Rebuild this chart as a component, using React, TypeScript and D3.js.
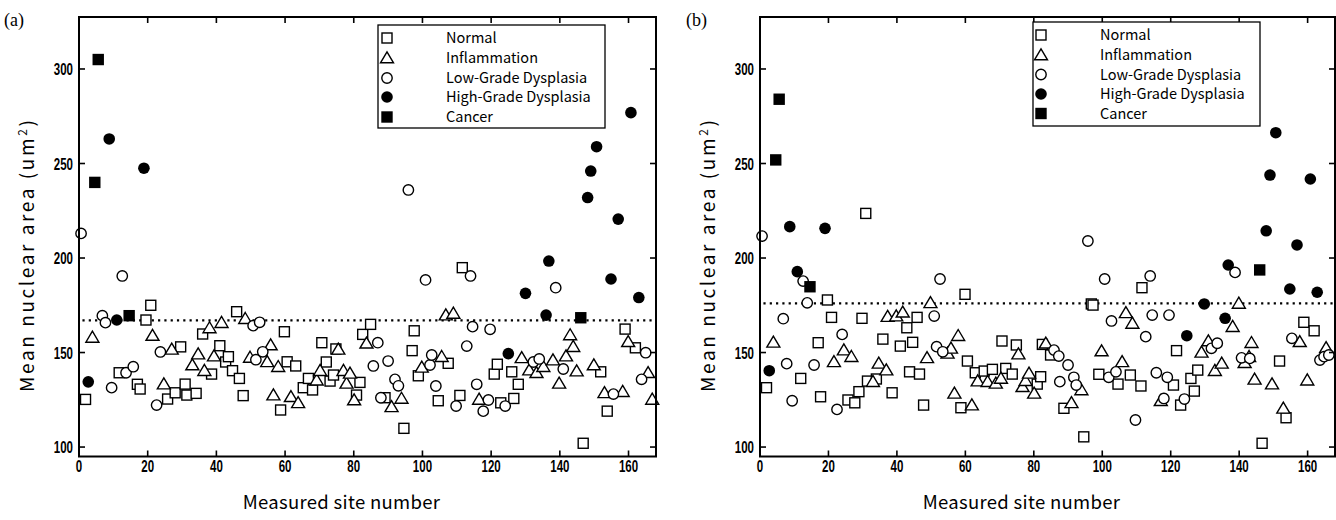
import React from "react";
import * as d3 from "d3";

type Pt = [number, number];

// ---- Panel (a) data: [site number, mean nuclear area] ----
const aNormal: Pt[] = [[1.9,125.2],[11.7,139.3],[17,133.2],[17.8,130.7],[19.5,167.2],[20.9,175],[25.8,125.4],[28,128.7],[29.6,153],[30.9,133.3],[31.4,127.5],[34.1,128.4],[36,159.8],[38.6,138.6],[41,153.6],[42.7,145],[43.5,147.8],[44.7,140.4],[45.9,171.6],[46.7,136.3],[47.8,127.2],[58.7,119.6],[59.8,161],[60.6,145.1],[63.1,142.9],[65.3,131.4],[66.8,136.3],[68,130.2],[70.7,155.2],[72,145],[73.1,134.9],[74.1,138.1],[74.8,151.9],[80.8,127.5],[81.8,134.2],[82.6,159.6],[84.9,164.9],[89.1,126.1],[94.6,109.9],[97,151],[97.6,161.5],[98.8,137.7],[104.6,124.5],[107.5,144.3],[110.9,127.3],[111.6,194.9],[120.9,138.6],[121.8,143.8],[122.8,123.4],[126,139.8],[126.6,125.7],[127.9,133.2],[146.8,102],[151.9,139.8],[153.8,119],[159,162.4],[162,152.5]];
const aInflammation: Pt[] = [[3.9,158],[21.4,159],[24.7,133.3],[27,151.7],[33,143.4],[34.7,149.2],[36.5,140.4],[38,163],[39.3,148.1],[41.5,165.8],[48.4,167.9],[49.8,147.4],[54.8,145.1],[55.8,154],[56.6,127.5],[58,142.5],[61.7,126.6],[63.8,123.4],[69.2,135.4],[70.2,140.4],[75.5,151.7],[77,140.4],[77.9,133.7],[78.9,139],[80.1,124.9],[83.7,154.9],[91,121.3],[93.9,125.7],[99.8,142.2],[105.6,147.8],[106.8,169.8],[109,170.7],[116.5,125.2],[128.9,147.2],[131.1,140.7],[133.2,139.3],[135.2,142.5],[138,146],[139.8,133.7],[141.8,148.1],[143,159.3],[143.9,153.1],[144.9,140.2],[149.9,143.4],[153,128.7],[158.3,129.3],[159.9,155.7],[165.7,139.3],[166.9,125.2]];
const aLowGrade: Pt[] = [[0.6,213],[6.8,169.5],[7.7,165.8],[9.5,131.4],[12.6,190.5],[13.7,139.3],[15.8,142.5],[22.6,122.2],[23.7,150.3],[50.7,164.2],[51.5,146.2],[52.6,166],[53.5,150.4],[85.7,142.9],[87,155.2],[87.9,126.1],[90,145.5],[92,135.8],[93,132.4],[95.9,236],[100.9,188.4],[102.2,143.4],[102.7,148.7],[103.9,132.3],[109.8,121.7],[112.9,153.4],[114,190.5],[114.6,163.7],[115.8,133.2],[117.7,119],[119.2,124.9],[119.7,162.3],[124.1,121.7],[132.3,145],[134,146.6],[138.8,184.3],[141,141.3],[155.6,128],[163.8,135.8],[165,149.9]];
const aHighGrade: Pt[] = [[2.7,134.5],[8.8,263],[11,167.2],[18.9,247.5],[125,149.4],[130,181.3],[136,169.8],[136.8,198.4],[148.1,232],[149,246],[150.7,258.9],[154.9,188.9],[157,220.6],[160.7,276.9],[163,179.1]];
const aCancer: Pt[] = [[4.6,240],[5.6,305],[14.6,169.5],[146.1,168.4]];
const aThreshold = 167;

// ---- Panel (b) data ----
const bNormal: Pt[] = [[1.9,131.4],[11.9,136.3],[17,155.2],[17.7,126.6],[19.7,177.8],[20.9,168.6],[25.7,124.9],[27.7,123.4],[28.9,129.3],[29.8,168.1],[30.9,223.6],[31.4,134.9],[34,136],[35.9,157.1],[38.6,128.7],[41,153.4],[42.9,163.1],[43.7,139.8],[44.6,155.4],[45.9,168.6],[46.6,138.6],[47.8,122.2],[58.7,120.8],[59.9,180.8],[60.6,145.5],[62.9,139.3],[65.5,140.2],[67.9,141.1],[70.7,156.1],[71.8,141.6],[73.7,138.6],[74.9,154],[81,133.3],[82,137.2],[82.5,154.3],[84.9,148.7],[88.8,120.5],[94.6,105.4],[96.8,175.7],[97.3,175.1],[99,138.5],[104.6,133.3],[108.2,138.1],[111.3,132.3],[111.6,184.3],[120.8,132.8],[121.7,151],[122.9,122.2],[125.9,136.3],[126.9,129.6],[127.9,140.7],[146.7,102],[151.8,145.5],[153.7,115.5],[158.9,166],[161.9,161.5]];
const bInflammation: Pt[] = [[3.9,155.4],[21.6,145.1],[24.5,151.3],[26.7,147.8],[33,134.6],[34.7,144.3],[36.9,140.7],[37.3,169],[39.8,169.3],[41.7,171.3],[48.8,147.2],[49.8,176.3],[54.8,149.6],[55.8,152.2],[56.8,128.4],[57.9,158.9],[61.9,122.2],[63.6,134.9],[66.5,134.6],[68.9,133.7],[70.4,136.3],[75.5,149.2],[76.7,131.9],[77.6,135.1],[78.6,139],[80.1,128.4],[83.5,154.9],[91,123.4],[93.9,130.2],[99.8,150.8],[105.8,145.1],[106.9,171],[108.8,165.4],[117.1,124.5],[129,150.1],[131,156.1],[132.9,140.4],[134.9,144.3],[138.1,163.7],[139.9,176],[141.6,144.6],[142.9,147.8],[143.6,155.2],[144.5,135.8],[149.6,133.3],[152.9,120.5],[157.7,155.7],[159.9,135.4],[165.4,152.5]];
const bLowGrade: Pt[] = [[0.6,211.6],[6.8,167.9],[7.8,144.1],[9.4,124.5],[12.6,187.8],[13.8,176.3],[15.8,143.4],[22.5,119.9],[24,159.6],[50.9,169.3],[51.6,153.1],[52.6,188.9],[53.4,150.4],[85.9,151.3],[87.3,148.1],[87.6,134.6],[90,143.4],[91.7,136.9],[92.4,132.8],[95.8,209],[100.7,188.9],[101.9,136.9],[102.7,166.7],[104,139.8],[109.7,114.3],[112.7,158.4],[114,190.5],[114.6,169.8],[115.8,139.3],[118,125.7],[119,136.9],[119.5,169.8],[124,125.4],[131.9,152.2],[133.6,154.9],[138.8,192.4],[140.7,147.2],[143.1,146.9],[155.4,157.5],[163.6,146],[164.8,147.8],[166.2,148.7]];
const bHighGrade: Pt[] = [[2.7,140.4],[8.7,216.6],[10.9,192.8],[19,215.7],[124.7,158.9],[129.8,175.7],[135.9,168.1],[136.8,196.3],[147.9,214.4],[149,243.9],[150.7,266.3],[154.8,183.6],[156.9,206.9],[160.8,241.8],[162.8,181.9]];
const bCancer: Pt[] = [[4.6,251.9],[5.6,284],[14.6,184.8],[146,193.7]];
const bThreshold = 176;

const categories = ["Normal", "Inflammation", "Low-Grade Dysplasia", "High-Grade Dysplasia", "Cancer"];
const xTicks = [0, 20, 40, 60, 80, 100, 120, 140, 160];
const yTicks = [100, 150, 200, 250, 300];
const xDomain: [number, number] = [0, 168];
const yDomain: [number, number] = [95, 327.5];

const W = 1336, H = 520;
const TOP = 17, BOTTOM = 456.5;

function Marker({ kind, x, y }: { kind: number; x: number; y: number }) {
  const sw = 1.4;
  if (kind === 0) return <rect x={x - 5} y={y - 5} width={10} height={10} fill="white" stroke="black" strokeWidth={sw} />;
  if (kind === 1) return <path d={`M${x},${y - 6.2}L${x + 6.5},${y + 4.8}L${x - 6.5},${y + 4.8}Z`} fill="white" stroke="black" strokeWidth={sw} strokeLinejoin="miter" />;
  if (kind === 2) return <circle cx={x} cy={y} r={5.2} fill="white" stroke="black" strokeWidth={sw} />;
  if (kind === 3) return <circle cx={x} cy={y} r={5.8} fill="black" />;
  return <rect x={x - 5.7} y={y - 5.7} width={11.4} height={11.4} fill="black" />;
}

type PanelProps = {
  left: number; right: number; label: string; labelX: number;
  series: Pt[][]; threshold: number;
  legend: { x0: number; x1: number; y0: number; y1: number; mx: number; tx: number; rows: number[] };
};

function Panel({ left, right, label, labelX, series, threshold, legend }: PanelProps) {
  const x = d3.scaleLinear().domain(xDomain).range([left, right]);
  const y = d3.scaleLinear().domain(yDomain).range([BOTTOM, TOP]);
  const tickFont = { fontFamily: "Liberation Sans, Arial, sans-serif", fontWeight: 700, fontSize: 16 } as const;
  const gothic = "'Noto Sans CJK JP', 'Noto Sans', sans-serif";
  const tl = 6;
  const midX = (left + right) / 2;
  return (
    <g>
      <text x={labelX} y={26} fontFamily="'Liberation Serif', 'DejaVu Serif', serif" fontSize={18}>{label}</text>
      {/* dotted threshold */}
      <line x1={x(1)} x2={right - 2} y1={y(threshold)} y2={y(threshold)} stroke="black" strokeWidth={2.2} strokeDasharray="2.2,4.1" />
      {/* points */}
      {series.map((pts, k) => (
        <g key={k}>
          {pts.map((p, i) => <Marker key={i} kind={k} x={x(p[0])} y={y(p[1])} />)}
        </g>
      ))}
      {/* frame */}
      <rect x={left} y={TOP} width={right - left} height={BOTTOM - TOP} fill="none" stroke="black" strokeWidth={2} />
      {xTicks.map((t) => (
        <g key={"x" + t}>
          <line x1={x(t)} x2={x(t)} y1={BOTTOM} y2={BOTTOM - tl} stroke="black" strokeWidth={1.6} />
          <line x1={x(t)} x2={x(t)} y1={TOP} y2={TOP + tl} stroke="black" strokeWidth={1.6} />
          <text transform={`translate(${x(t)},${BOTTOM + 15}) scale(0.72,1)`} textAnchor="middle" {...tickFont}>{t}</text>
        </g>
      ))}
      {yTicks.map((t) => (
        <g key={"y" + t}>
          <line x1={left} x2={left + tl} y1={y(t)} y2={y(t)} stroke="black" strokeWidth={1.6} />
          <line x1={right} x2={right - tl} y1={y(t)} y2={y(t)} stroke="black" strokeWidth={1.6} />
          <text transform={`translate(${left - 6},${y(t) + 6}) scale(0.72,1)`} textAnchor="end" {...tickFont}>{t}</text>
        </g>
      ))}
      {/* axis titles */}
      <text x={midX - 26} y={509} textAnchor="middle" fontFamily={gothic} fontSize={18.5} letterSpacing={0.3}>Measured site number</text>
      <text transform={`translate(${left - 45},${(TOP + BOTTOM) / 2 + 18}) rotate(-90)`} textAnchor="middle" fontFamily={gothic} fontSize={19} letterSpacing={2.6}>
        Mean nuclear area (um<tspan dy={-7} fontSize={12}>2</tspan><tspan dy={7}>)</tspan>
      </text>
      {/* legend */}
      <rect x={legend.x0} y={legend.y0} width={legend.x1 - legend.x0} height={legend.y1 - legend.y0} fill="white" stroke="black" strokeWidth={1.3} />
      {categories.map((c, k) => (
        <g key={c}>
          <Marker kind={k} x={legend.mx} y={legend.rows[k]} />
          <text x={legend.tx} y={legend.rows[k] + 5} fontFamily={gothic} fontSize={14.5}>{c}</text>
        </g>
      ))}
    </g>
  );
}

export default function App() {
  return (
    <svg width={W} height={H} style={{ position: "absolute", left: 0, top: 0, background: "white" }}>
      <rect width={W} height={H} fill="white" />
      <Panel left={79} right={656} label="(a)" labelX={4} threshold={aThreshold}
        series={[aNormal, aInflammation, aLowGrade, aHighGrade, aCancer]}
        legend={{ x0: 378, x1: 605, y0: 25, y1: 128, mx: 387, tx: 446, rows: [38, 58, 78, 97, 117] }} />
      <Panel left={760} right={1335} label="(b)" labelX={686} threshold={bThreshold}
        series={[bNormal, bInflammation, bLowGrade, bHighGrade, bCancer]}
        legend={{ x0: 1033, x1: 1260, y0: 22, y1: 126, mx: 1041, tx: 1100, rows: [35, 55, 74.5, 94, 113.5] }} />
    </svg>
  );
}
